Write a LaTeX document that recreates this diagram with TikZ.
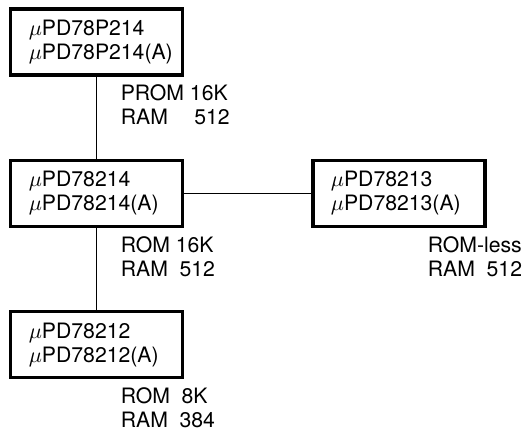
\documentclass[tikz,border=0pt]{standalone}
\usepackage{fontspec}
\setmainfont{TeX Gyre Heros}
\usepackage{tikz}
\usetikzlibrary{positioning}

\begin{document}
\begin{tikzpicture}[
            node distance=41pt and 63.4pt,
            font=\fontsize{10.6pt}{12pt}\selectfont,
            chip/.style={rectangle,draw,line width=1.65pt,minimum width=86pt,minimum height=33pt,
                         text width=68pt,inner xsep=9pt,align=left},
            memo/.style={inner sep=0pt,align=left},
            link/.style={line width=0.5pt}]
            \useasboundingbox (0,0) rectangle (261pt,-215.5pt);
            \node[chip] (p214) at (48.4pt,-21pt) {$\mu$PD78P214\\$\mu$PD78P214(A)};
            \node[chip,below=of p214] (d214) {$\mu$PD78214\\$\mu$PD78214(A)};
            \node[chip,right=of d214] (d213) {$\mu$PD78213\\$\mu$PD78213(A)};
            \node[chip,below=of d214] (d212) {$\mu$PD78212\\$\mu$PD78212(A)};
            % memory sizes
            \node[memo,below right=4pt and 11.8pt of p214.south] (m214p) {PROM 16K\\RAM\hspace{1.25em}512};
            \node[memo,below right=4pt and 11.8pt of d214.south] (m214) {ROM 16K\\RAM\hspace{0.55em}512};
            \node[memo,below right=4pt and 14.3pt of d213.south] (m213) {ROM-less\\RAM\hspace{0.55em}512};
            \node[memo,below right=4pt and 11.8pt of d212.south] (m212) {ROM\hspace{0.55em}8K\\RAM\hspace{0.55em}384};
            \draw[link] (p214)--(d214);
            \draw[link] (d214)--(d213);
            \draw[link] (d214)--(d212);
        \end{tikzpicture}
\end{document}
